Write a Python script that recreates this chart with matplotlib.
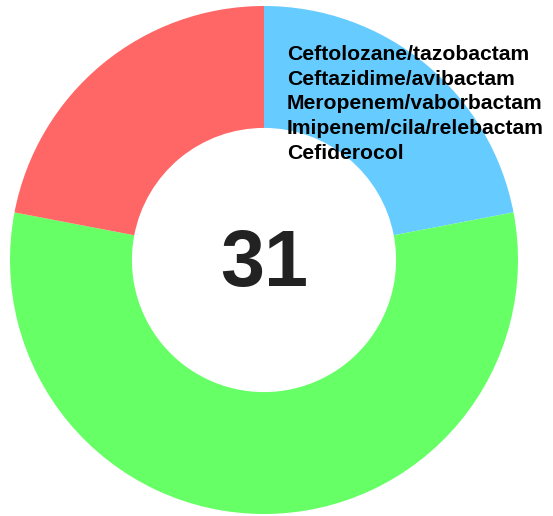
import matplotlib.pyplot as plt

# wedge values (clockwise from 12 o'clock)
values = [22, 56, 22]
colors = ['#66CCFF', '#66FF66', '#FF6666']
labels = ['Ceftolozane/tazobactam', 'Ceftazidime/avibactam', 'Meropenem/vaborbactam',
          'Imipenem/cila/relebactam', 'Cefiderocol']
total_label = '31'

W, H = 553, 516
fig = plt.figure(figsize=(W / 100, H / 100), dpi=100)
ax = fig.add_axes([0, 0, 1, 1])

ax.pie(values, colors=colors, startangle=90, counterclock=False, radius=1,
       wedgeprops=dict(width=0.48, linewidth=0))

# place centre at (264, 260) px from top-left, radius 254 px
cx, cy, r = 264, 260, 254
ax.set_aspect('auto')
ax.set_xlim(-cx / r, (W - cx) / r)
ax.set_ylim(-(H - cy) / r, cy / r)
ax.axis('off')

ax.text(0, -0.02, total_label, ha='center', va='center', fontsize=57, fontweight='bold',
        color='#222222', family='Liberation Sans')

for i, lab in enumerate(labels):
    fig.text(287 / W, 1 - (60 + 24.7 * i) / H, lab, ha='left', va='baseline',
             fontsize=15.2, fontweight='bold', family='Liberation Sans', color='black')

fig.savefig('out.png', dpi=100)
